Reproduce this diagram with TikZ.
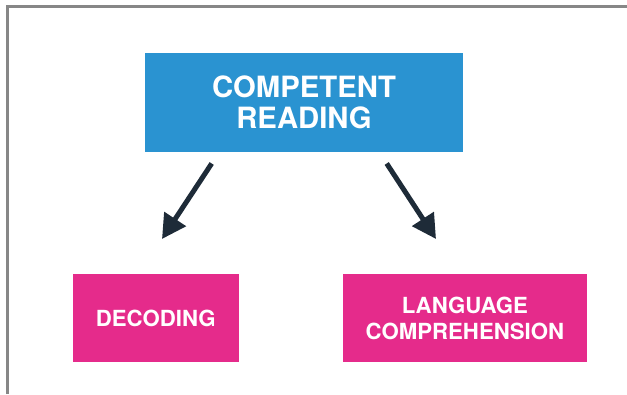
\documentclass[tikz,border=0pt]{standalone}
\usepackage{fontspec}
\setmainfont{TeX Gyre Heros}
\usetikzlibrary{arrows.meta}
\definecolor{boxblue}{HTML}{2A93D1}
\definecolor{boxpink}{HTML}{E52B8B}
\definecolor{arrowdark}{HTML}{1E2B38}
\definecolor{framegray}{HTML}{878787}
\tikzset{
  topbox/.style={fill=boxblue, draw=none, inner sep=0pt, align=center, text=white,
    minimum width=318pt, minimum height=98.7pt,
    font=\fontsize{29.3}{31.5}\selectfont\bfseries},
  subbox/.style={fill=boxpink, draw=none, inner sep=0pt, align=center, text=white,
    minimum height=87.5pt,
    font=\fontsize{22.2}{26}\selectfont\bfseries},
  bigarrow/.style={draw=arrowdark, line width=5pt,
    -{Triangle[length=24pt,width=25pt]}},
}
\begin{document}
\begin{tikzpicture}[x=1pt,y=-1pt]
\useasboundingbox (0,0) rectangle (627,394);
\fill[white] (0,0) rectangle (627,394);
\draw[framegray, line width=3pt] (7.5,394) -- (7.5,6.5) -- (627,6.5);
\node[topbox] (top) at (304,102.3) {COMPETENT\\READING};
\node[subbox, minimum width=165.8pt] (dec) at (155.7,318.2) {DECODING};
\node[subbox, minimum width=244.2pt] (lang) at (464.9,318.2) {LANGUAGE\\COMPREHENSION};
\coordinate (a1s) at (211.7,163.5);
\coordinate (a1e) at (162,239);
\coordinate (a2s) at (386.7,163.5);
\coordinate (a2e) at (436,239);
\draw[bigarrow] (a1s) -- (a1e);
\draw[bigarrow] (a2s) -- (a2e);
\end{tikzpicture}
\end{document}
